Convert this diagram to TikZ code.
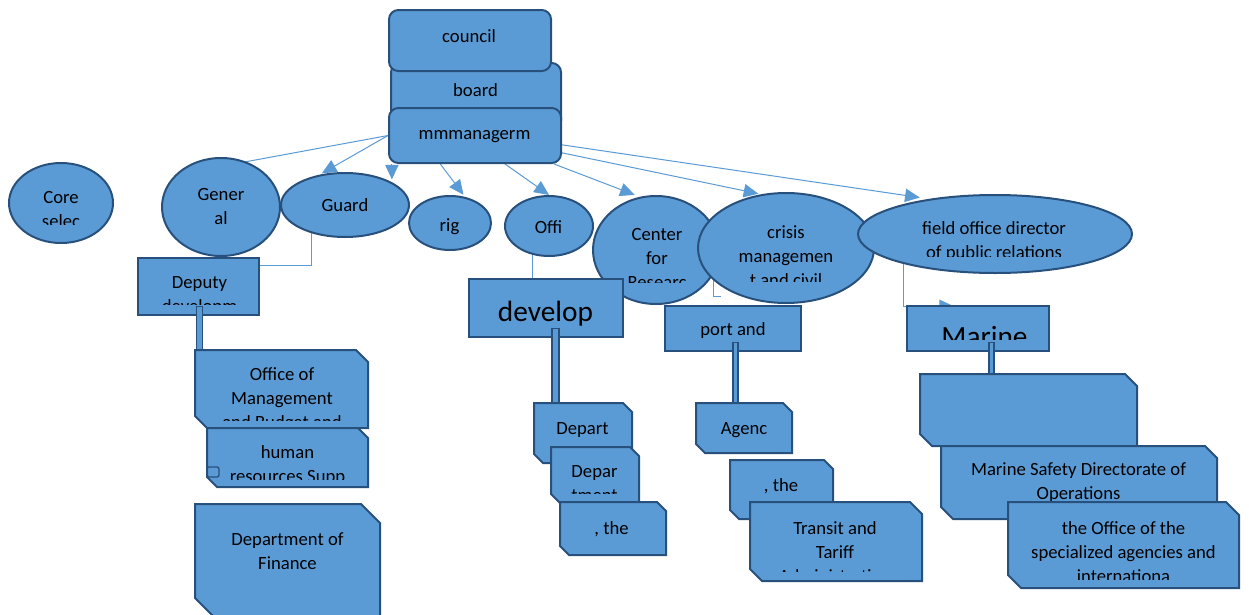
\documentclass[tikz,border=0pt]{standalone}
\usepackage{fontspec}
\setmainfont{Carlito}
\usetikzlibrary{arrows.meta,fit,backgrounds,shapes.geometric}

\definecolor{boxfill}{RGB}{91,155,213}
\definecolor{boxline}{RGB}{40,80,125}

% text whose last line is cut off at a given height
\newcommand{\cuttext}[5]{%
  \begin{scope}
    \clip (#2-170,#3-70) rectangle (#2+170,#4);
    \node[txt] (#1) at (#2,#3) {#5};
  \end{scope}}

% box with snipped upper right and lower left corners
\newcommand{\snipbox}[6]{%
  \draw[snip] (#2,#3) -- (#4-#6,#3) -- (#4,#3+#6) -- (#4,#5) -- (#2+#6,#5) -- (#2,#5-#6) -- cycle;
  \node[inner sep=0pt, fit={(#2,#3) (#4,#5)}] (#1) {};}

\begin{document}
\begin{tikzpicture}[x=0.75pt, y=-0.75pt]
                \tikzstyle{rbox} = [rectangle, draw=boxline, fill=boxfill, line width=1.5pt, rounded corners=7pt, inner sep=0pt]
                \tikzstyle{oval} = [ellipse, draw=boxline, fill=boxfill, line width=1.5pt, inner sep=0pt]
                \tikzstyle{sbox} = [rectangle, draw=boxline, fill=boxfill, line width=1.5pt, inner sep=0pt]
                \tikzstyle{snip} = [draw=boxline, fill=boxfill, line width=1.5pt]
                \tikzstyle{txt} = [align=center, inner sep=0pt, font=\fontsize{14}{18}\selectfont]
                \tikzstyle{bigtxt} = [txt, font=\fontsize{22}{26}\selectfont]
                \tikzstyle{bar} = [draw=boxline, fill=boxfill, line width=1pt]
                \tikzstyle{link} = [draw=boxfill, line width=0.75pt]
                \tikzstyle{arrow} = [link, -{Triangle[length=11pt,width=10pt]}, shorten >=2pt]
                \tikzset{boxsize/.style 2 args={minimum width=#1*0.75pt, minimum height=#2*0.75pt}}

                \useasboundingbox (0,0) rectangle (1249,614);

                % top
                \node[rbox, boxsize={170}{67}] (board) at (476,96.5) {};
                \node[txt] (boardtxt) at (475.5,90) {board};
                \node[rbox, boxsize={162}{61}] (council) at (470,40.5) {};
                \node[txt] (counciltxt) at (469,36) {council};
                \node[rbox, boxsize={172}{55}] (mgmt) at (475,135.5) {};
                \node[txt] (mgmttxt) at (474.5,137) {mmmanagerm};

                % second row
                \node[oval, boxsize={104}{80}] (core) at (61,203) {};
                \cuttext{coretxt}{61}{209.5}{224}{Core\\selec}
                \node[oval, boxsize={118}{98}] (general) at (221,207) {};
                \node[txt] (generaltxt) at (221,207) {Gener\\al};
                \node[oval, boxsize={128}{64}] (guard) at (345,205) {};
                \node[txt] (guardtxt) at (345,205) {Guard};
                \node[oval, boxsize={82}{54}] (rig) at (450,223) {};
                \node[txt] (rigtxt) at (449.5,227) {rig};
                \node[oval, boxsize={88}{60}] (offi) at (549,226) {};
                \node[txt] (offitxt) at (548.5,227) {Offi};
                \node[oval, boxsize={126}{108}] (centre) at (656,250) {};
                \cuttext{centretxt}{657}{259}{282}{Center\\for\\Researc}
                \node[oval, boxsize={176}{110}] (crisis) at (786,248) {};
                \cuttext{crisistxt}{786}{256}{281}{crisis\\managemen\\t and civil}
                \node[oval, boxsize={274}{78}] (field) at (995,234) {};
                \cuttext{fieldtxt}{994}{241.5}{256}{field office director\\of public relations}

                % third row
                \node[sbox, boxsize={121}{57}] (deputy) at (198.5,286.5) {};
                \cuttext{deputytxt}{199.5}{296}{304}{Deputy\\developm}
                \node[sbox, boxsize={154}{58}] (develop) at (546,308) {};
                \node[bigtxt] (developtxt) at (545.5,314) {develop};
                \node[sbox, boxsize={136}{45}] (port) at (733,328.5) {};
                \node[txt] (porttxt) at (733,331) {port and};
                \node[sbox, boxsize={142}{45}] (marine) at (978,328.5) {};
                \cuttext{marinetxt}{984.5}{337}{339}{\fontsize{22}{26}\selectfont Marine}

                % lower boxes
                \snipbox{offmgmt}{195}{350}{368}{428}{12}
                \cuttext{offmgmttxt}{282}{400}{420}{Office of\\Management\\and Budget and}
                \snipbox{human}{207}{428}{368}{487}{10}
                \draw[boxline, line width=1pt, rounded corners=1.5pt] (207,467) rectangle (219,477);
                \cuttext{humantxt}{287.5}{466}{479}{human\\resources Supp}
                \snipbox{finance}{195}{504}{380}{617}{19}
                \node[txt] (financetxt) at (287.5,551) {Department of\\Finance};
                \snipbox{depart}{534}{403}{632}{463}{9}
                \node[txt] (departtxt) at (582.5,430) {Depart};
                \snipbox{depar}{551}{447}{639}{503}{9}
                \cuttext{departxt}{594.5}{483.5}{493}{Depar\\tment}
                \snipbox{theone}{560}{502}{666}{555}{9}
                \node[txt] (theonetxt) at (611.5,529) {, the};
                \snipbox{agenc}{696}{403}{792}{453}{9}
                \node[txt] (agenctxt) at (744,430) {Agenc};
                \snipbox{thetwo}{730}{460}{833}{519}{9}
                \node[txt] (thetwotxt) at (781,486) {, the};
                \snipbox{transit}{750}{502}{922}{581}{12}
                \cuttext{transittxt}{835}{552}{571}{Transit and\\Tariff\\Administration}
                \snipbox{blank}{920}{374}{1137}{446}{12}
                \snipbox{safety}{941}{446}{1217}{519}{12}
                \node[txt] (safetytxt) at (1078.5,483) {Marine Safety Directorate of\\Operations};
                \snipbox{theoffice}{1008}{502}{1239}{588}{13}
                \cuttext{theofficetxt}{1123.5}{552}{579}{the Office of the\\specialized agencies and\\internationa}

                % double bars down to the offices
                \draw[bar] ([xshift=-1.6pt,yshift=7pt]deputy.south) rectangle ([xshift=3.1pt]deputy.south |- offmgmt.north);
                \draw[bar] ([xshift=4.5pt,yshift=7pt]develop.south) rectangle ([xshift=9.7pt]develop.south |- depart.north);
                \draw[bar] ([xshift=0pt,yshift=7pt]port.south) rectangle ([xshift=3.8pt]port.south |- agenc.north);
                \draw[bar] ([xshift=8.2pt,yshift=7pt]marine.south) rectangle ([xshift=12pt]marine.south |- blank.north);

                \begin{scope}[on background layer]
                \fill[white] (0,0) rectangle (1249,614);
                \draw[arrow] (mgmt.west) -- (general.145);
                \draw[arrow] (mgmt.west) -- (guard.130);
                \draw[arrow] (mgmt.south west -| guard.26) -- (guard.26);
                \draw[arrow] ([xshift=-26pt]mgmt.south) -- (rig.60);
                \draw[arrow, shorten >=0pt] ([xshift=22.5pt]mgmt.south) -- (offi.north);
                \draw[arrow, shorten >=4pt] ([xshift=-6pt]mgmt.south east) -- (centre.107);
                \draw[arrow] ([yshift=-13pt]mgmt.east) -- (crisis.115);
                \draw[arrow, shorten >=7pt] ([yshift=-7pt]mgmt.east) -- (field.152);
                \draw[link] (guard.220) |- ([yshift=-6pt]deputy.north east);
                \draw[link] (offi.240) -- (offi.240 |- develop.north);
                \coordinate (crisisend) at (721,296);
                \draw[link] (crisis.204) |- (crisisend);
                \draw[arrow, shorten >=0pt] (field.198) |- ([xshift=36pt,yshift=-1pt]marine.north west);
                \end{scope}
\end{tikzpicture}
\end{document}
